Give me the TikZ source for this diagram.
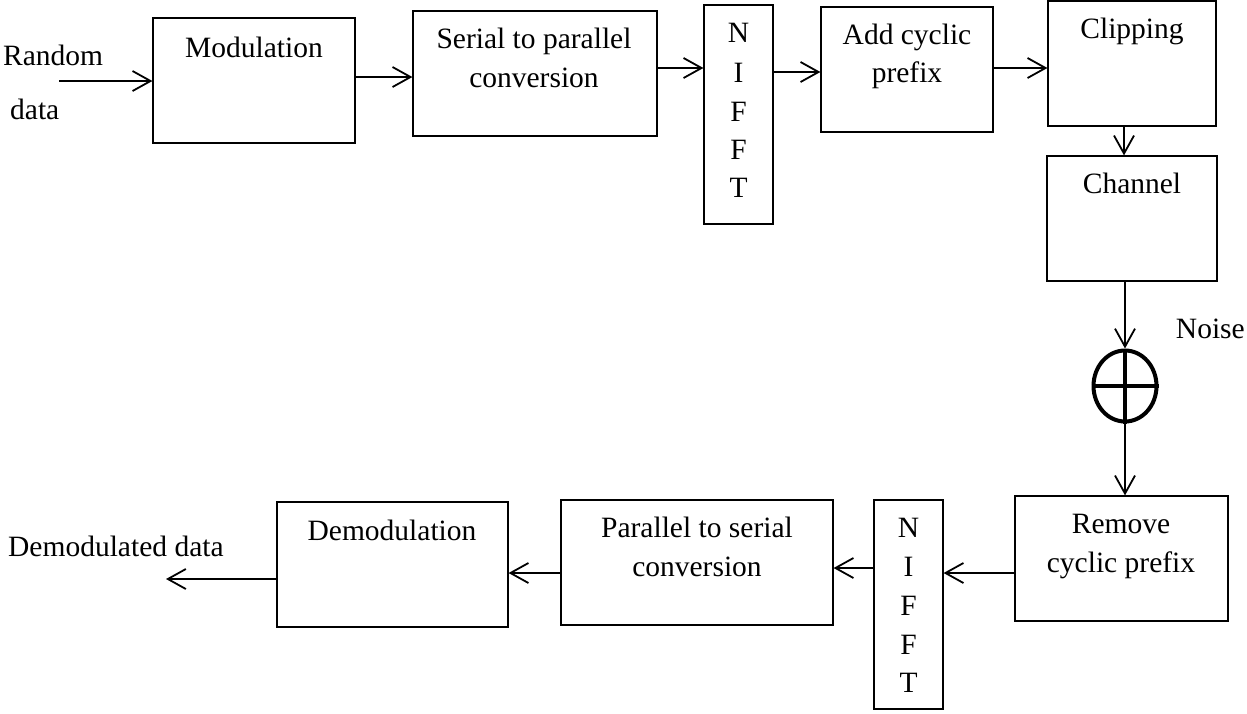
\documentclass[tikz,border=0pt]{standalone}
\usepackage{fontspec}
\setmainfont{Liberation Serif}
\usetikzlibrary{arrows.meta,shapes.geometric}
\begin{document}
\begin{tikzpicture}[x=1pt,y=-1pt,
  font=\fontsize{29.5pt}{35pt}\selectfont,
  block/.style={draw,line width=1.2pt,inner sep=0pt,rectangle,minimum height=125pt},
  txt/.style={anchor=base,inner sep=0pt},
  flow/.style={line width=1.8pt,-{Straight Barb[length=18pt,width=20pt,line width=1.8pt]}}]
\useasboundingbox (0,0) rectangle (1247,713);

% ---- transmitter chain (top row) ----
\node[block,minimum width=202pt] (mod) at (254,80.5) {};
\node[block,minimum width=244pt] (sp) at (535,73.5) {};
\node[block,minimum width=69pt,minimum height=219pt] (ifftA) at (738.5,114.5) {};
\node[block,minimum width=172pt] (acp) at (907,69.5) {};
\node[block,minimum width=168pt] (clip) at (1132,63.5) {};
\node[block,minimum width=170pt] (chan) at (1132,218.5) {};

% adder for the noise
\node[draw,ellipse,line width=4pt,inner sep=0pt,minimum width=63pt,minimum height=71pt] (sum) at (1125,386) {};
\draw[line width=4pt] (sum.west) -- (sum.east);
\draw[line width=4pt] (sum.north) -- (sum.south);

% ---- receiver chain (bottom row) ----
\node[block,minimum width=213pt] (rcp) at (1121.5,558.5) {};
\node[block,minimum width=69pt,minimum height=209pt] (ifftB) at (908.5,604.5) {};
\node[block,minimum width=272pt] (ps) at (697,562.5) {};
\node[block,minimum width=231pt] (demod) at (392.5,564.5) {};

% ---- labels ----
\node[anchor=base west,inner sep=0pt] (rnd) at (3,65) {Random};
\node[anchor=base west,inner sep=0pt] (rdata) at (10,119) {data};
\node[txt] (modT) at (254,57) {Modulation};
\node[txt] (spT1) at (534,48) {Serial to parallel};
\node[txt] (spT2) at (534,87) {conversion};
\foreach \c/\yy [count=\i] in {N/42,I/82,F/121,F/159,T/197}
  \node[txt] (fa\i) at (738.5,\yy) {\c};
\node[txt] (acpT1) at (907,44) {Add cyclic};
\node[txt] (acpT2) at (907,82) {prefix};
\node[txt] (clipT) at (1132,38) {Clipping};
\node[txt] (chanT) at (1132,193) {Channel};
\node[anchor=base east,inner sep=0pt] (noise) at (1245,338) {Noise};
\node[txt] (rcpT1) at (1121,533) {Remove};
\node[txt] (rcpT2) at (1121,572) {cyclic prefix};
\foreach \c/\yy [count=\i] in {N/537,I/576,F/615,F/654,T/692}
  \node[txt] (fb\i) at (908.5,\yy) {\c};
\node[txt] (psT1) at (697,537) {Parallel to serial};
\node[txt] (psT2) at (697,576) {conversion};
\node[txt] (demodT) at (392,540) {Demodulation};
\node[anchor=base west,inner sep=0pt] (outT) at (8,556) {Demodulated data};

% ---- connectors ----
\coordinate (src) at (59,81);
\coordinate (dst) at (166,579);
\draw[flow] (src) -- (src -| mod.west);
\draw[flow] (mod.east |- 0,77) -- (sp.west |- 0,77);
\draw[flow] (sp.east |- 0,68) -- (ifftA.west |- 0,68);
\draw[flow] (ifftA.east |- 0,72) -- (acp.west |- 0,72);
\draw[flow] (acp.east |- 0,68) -- (clip.west |- 0,68);
\draw[flow] (clip.south -| 1124,0) -- (chan.north -| 1124,0);
\draw[flow] (chan.south -| sum.north) -- (sum.north);
\draw[flow] (sum.south) -- (sum.south |- rcp.north);
\draw[flow] (rcp.west |- 0,573) -- (ifftB.east |- 0,573);
\draw[flow] (ifftB.west |- 0,568) -- (ps.east |- 0,568);
\draw[flow] (ps.west |- 0,573) -- (demod.east |- 0,573);
\draw[flow] (demod.west |- dst) -- (dst);
\end{tikzpicture}
\end{document}
